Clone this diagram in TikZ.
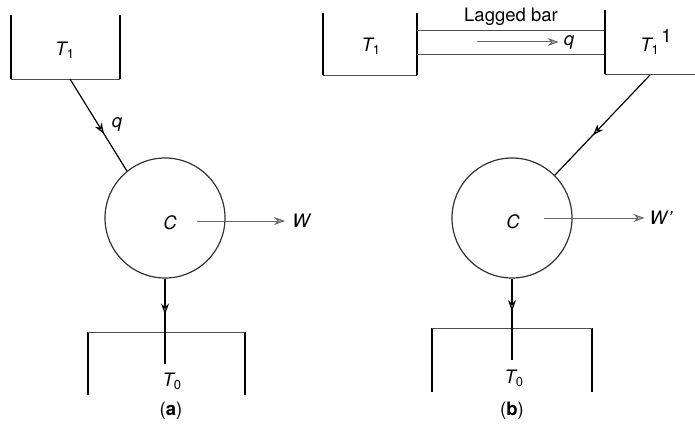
\documentclass[tikz,border=0pt]{standalone}
\usepackage{fontspec}
\setmainfont{TeX Gyre Heros}
\usetikzlibrary{arrows.meta,decorations.markings}
\newcommand{\sbs}[1]{\textsubscript{\upshape #1}}
\tikzset{
  tipmark/.tip={Stealth[length=11pt,width=8pt,fill=black!30]},
  wall/.style={line width=1.7pt, black},
  base/.style={line width=1pt, black!70},
  flowline/.style={line width=1.2pt, black, postaction={decorate},
    decoration={markings, mark=at position #1 with {\arrow{tipmark}}}},
  harrow/.style={line width=1pt, black!60, -{tipmark}},
  engine/.style={circle, draw=black!80, line width=1.2pt, minimum size=120pt, inner sep=0pt},
  lbl/.style={font=\fontsize{18.5}{20}\selectfont, inner sep=2pt},
}
\begin{document}
\begin{tikzpicture}[x=1pt,y=-1pt]
\useasboundingbox (0,0) rectangle (695,428);
% ---------- (a) ----------
% top reservoir
\coordinate (a1tl) at (11,15);
\coordinate (a1bl) at (11,79);
\coordinate (a1br) at (120,79);
\coordinate (a1tr) at (120,15);
\draw[wall] (a1tl) -- (a1bl);
\draw[wall] (a1tr) -- (a1br);
\draw[base] (a1bl) -- (a1br);
\node[lbl] (Ta1) at (65,50) {\itshape T\sbs{1}};
% engine
\node[engine] (ca) at (165,218) {};
\node[lbl] (Ca) at (170,223) {\itshape C};
\coordinate (qa0) at (70,79);
\draw[flowline=0.6] (qa0) -- (ca.129);
\node[lbl] (qa) at (117,124) {\itshape q};
% work
\coordinate (wa0) at (197,221);
\node[lbl] (Wa) at (301,221) {\itshape W};
\draw[harrow, shorten >=5pt] (wa0) -- (Wa.west);
% bottom reservoir
\coordinate (a0tl) at (88,332);
\coordinate (a0tr) at (245,332);
\coordinate (a0bl) at (88,395);
\coordinate (a0br) at (245,395);
\draw[wall] (a0tl) -- (a0bl);
\draw[wall] (a0tr) -- (a0br);
\draw[base] (a0tl) -- (a0tr);
\coordinate (a0end) at (165,364);
\draw[flowline=0.42] (ca.south) -- (a0end);
\node[lbl] (Ta0) at (172,381) {\itshape T\sbs{0}};
\node[lbl] (capa) at (171,411) {(\textbf{a})};
% ---------- (b) ----------
\coordinate (b1tl) at (323,13);
\coordinate (b1bl) at (323,75);
\coordinate (b1br) at (417,75);
\coordinate (b1tr) at (417,13);
\draw[wall] (b1tl) -- (b1bl);
\draw[wall] (b1tr) -- (b1br);
\draw[base] (b1bl) -- (b1br);
\node[lbl] (Tb1) at (371,46) {\itshape T\sbs{1}};
% lagged bar
\coordinate (bar1) at (417,31);
\coordinate (bar2) at (605,31);
\coordinate (bar3) at (417,55);
\coordinate (bar4) at (605,55);
\draw[base] (bar1) -- (bar2);
\draw[base] (bar3) -- (bar4);
\node[lbl] (lag) at (511,17) {Lagged bar};
\coordinate (qb0) at (477,42);
\node[lbl] (qb) at (569,42) {\itshape q};
\draw[harrow, shorten >=3pt] (qb0) -- (qb.west);
% right reservoir
\coordinate (b2tl) at (605,10);
\coordinate (b2bl) at (605,74);
\coordinate (b2br) at (695,74);
\draw[wall] (b2tl) -- (b2bl);
\draw[base] (b2bl) -- (b2br);
\node[lbl] (Tb2) at (656,42) {\itshape T\sbs{1}\raisebox{9pt}{\kern2pt\upshape 1}};
% engine
\node[engine] (cb) at (512,218) {};
\node[lbl] (Cb) at (513,222) {\itshape C};
\coordinate (qb1) at (650,75);
\draw[flowline=0.6] (qb1) -- (cb.45);
\coordinate (wb0) at (544,218);
\node[lbl] (Wb) at (661,218) {\itshape W\kern1pt\textquoteright};
\draw[harrow, shorten >=3pt] (wb0) -- (Wb.west);
% bottom reservoir
\coordinate (b0tl) at (432,328);
\coordinate (b0tr) at (592,328);
\coordinate (b0bl) at (432,392);
\coordinate (b0br) at (592,392);
\draw[wall] (b0tl) -- (b0bl);
\draw[wall] (b0tr) -- (b0br);
\draw[base] (b0tl) -- (b0tr);
\coordinate (b0end) at (512,360);
\draw[flowline=0.4] (cb.south) -- (b0end);
\node[lbl] (Tb0) at (514,378) {\itshape T\sbs{0}};
\node[lbl] (capb) at (512,411) {(\textbf{b})};
\end{tikzpicture}
\end{document}
